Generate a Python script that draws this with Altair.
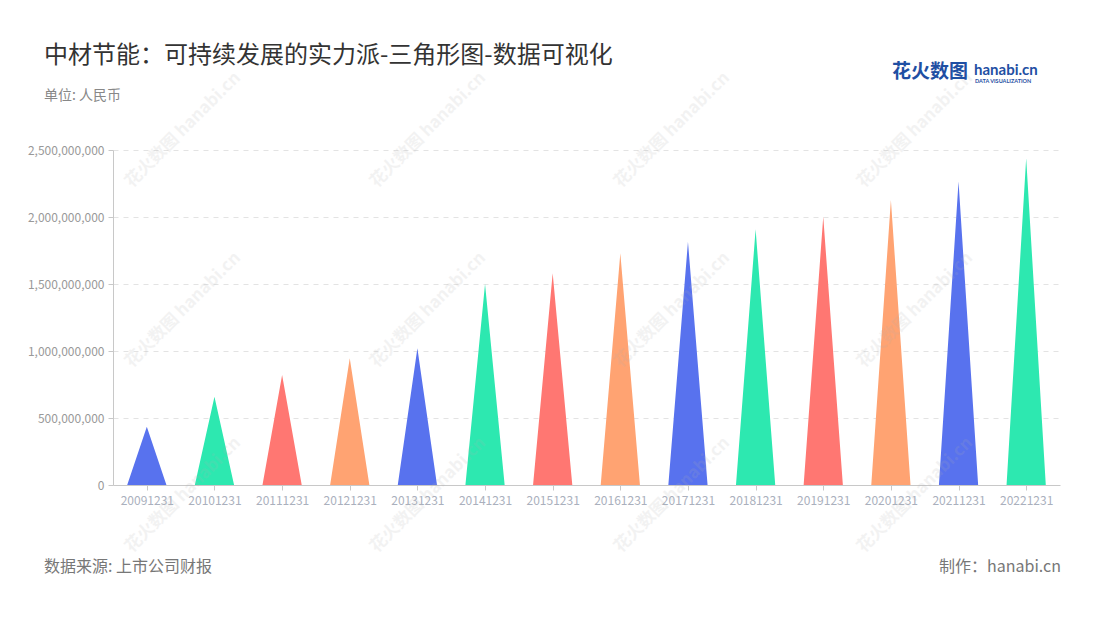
import altair as alt
import pandas as pd

# ---- data ----
periods = ["20091231", "20101231", "20111231", "20121231", "20131231", "20141231", "20151231",
           "20161231", "20171231", "20181231", "20191231", "20201231", "20211231", "20221231"]
values = [435e6, 659e6, 821e6, 945e6, 1020e6, 1500e6, 1580e6,
          1729e6, 1816e6, 1908e6, 2002e6, 2127e6, 2264e6, 2438e6]
palette = ["#5872EE", "#2DE8B0", "#FF7772", "#FFA372"]
y_ticks = [0, 5e8, 1e9, 1.5e9, 2e9, 2.5e9]

HALF = 0.29  # half base width of each triangle, in band units

rows = []
for i, (p, v) in enumerate(zip(periods, values)):
    c = palette[i % len(palette)]
    center = i + 0.5
    rows.append({"period": p, "pos": center - HALF, "val": 0, "color": c, "order": 0})
    rows.append({"period": p, "pos": center, "val": v, "color": c, "order": 1})
    rows.append({"period": p, "pos": center + HALF, "val": 0, "color": c, "order": 2})
df = pd.DataFrame(rows)

FONT = "Noto Sans CJK SC"
W, H = 947, 335
OX, OY = 113, 150  # plot origin on page

label_js = "[" + ",".join("'%s'" % p for p in periods) + "]"

x = alt.X("pos:Q",
          scale=alt.Scale(domain=[0, len(periods)], nice=False, zero=False),
          axis=alt.Axis(values=[i + 0.5 for i in range(len(periods))],
                        labelExpr=label_js + "[round(datum.value - 0.5)]",
                        title=None, grid=False, domainColor="#c8c8c8", tickColor="#c8c8c8",
                        tickSize=5, labelColor="#aab0bd", labelFontSize=12, labelPadding=5,
                        labelFont=FONT))
y = alt.Y("val:Q",
          scale=alt.Scale(domain=[0, 2.5e9], nice=False),
          axis=alt.Axis(values=y_ticks, format=",d", title=None,
                        grid=True, gridDash=[5, 5], gridColor="#e3e3e3",
                        domainColor="#c8c8c8", tickColor="#c8c8c8", tickSize=5,
                        labelColor="#999999", labelFontSize=12, labelPadding=4,
                        labelFont=FONT))

tri = alt.Chart(df).mark_area(line=False, opacity=1).encode(
    x=x, y=y,
    detail="period:N",
    order="order:Q",
    color=alt.Color("color:N", scale=None),
)


def txt(t, xv, yv, size, color, align="left", weight="normal", font=FONT, angle=0, opacity=1):
    return alt.Chart(pd.DataFrame({"t": [t]})).mark_text(
        align=align, baseline="middle", fontSize=size, color=color, font=font,
        fontWeight=weight, angle=angle, opacity=opacity
    ).encode(text="t:N", x=alt.value(xv), y=alt.value(yv))


title = txt("中材节能：可持续发展的实力派-三角形图-数据可视化", 44 - OX, 56 - OY, 24, "#333333")
sub = txt("单位: 人民币", 44 - OX, 96 - OY, 14, "#888888")
src = txt("数据来源: 上市公司财报", 44 - OX, 567 - OY, 16, "#777777")
made = txt("制作：hanabi.cn", 1061 - OX, 567 - OY, 16, "#777777", align="right")
logo1 = txt("花火数图", 892 - OX, 72 - OY, 19, "#1f4fa3", weight="bold")
logo2 = txt("hanabi.cn", 974 - OX, 70 - OY, 15, "#1f4fa3", weight="bold", font="Lato")
logo3 = txt("DATA VISUALIZATION", 975 - OX, 81 - OY, 5.5, "#1f4fa3", weight="bold", font="Lato")

# faint watermarks
wm_layers = []
for cx in [183, 428, 672, 915]:
    for cy in [130, 310, 495]:
        wm_layers.append(txt("花火数图 hanabi.cn", cx - OX, cy - OY, 17, "#b0b0b0",
                             align="center", weight="bold", angle=315, opacity=0.15))

chart = alt.layer(tri, *wm_layers, title, sub, src, made, logo1, logo2, logo3).properties(
    width=W, height=H,
    padding={"left": OX - 8, "top": OY - 8, "right": 20, "bottom": 110},
    autosize=alt.AutoSizeParams(type="none"),
).configure(font=FONT).configure_view(strokeWidth=0)

chart.save("out.html", embed_options={"renderer": "svg", "actions": False})
